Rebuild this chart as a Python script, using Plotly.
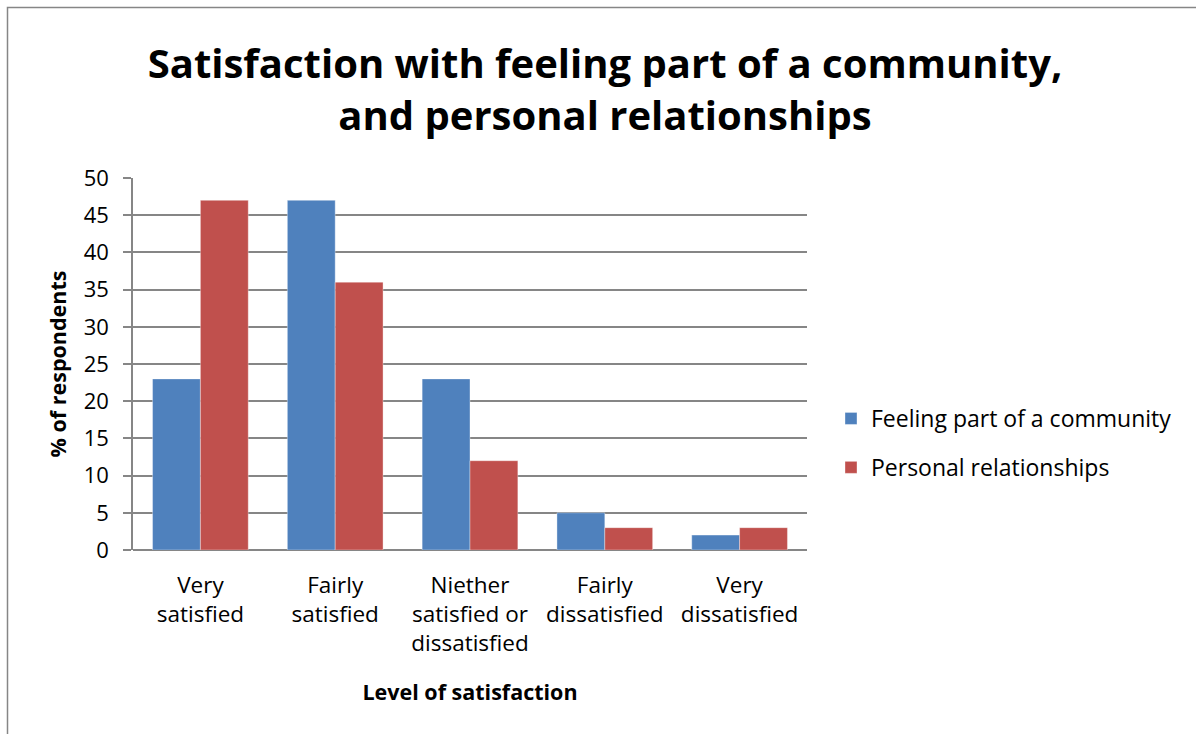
import plotly.graph_objects as go

# Survey responses (% of respondents) by level of satisfaction
categories = [
    "Very<br>satisfied",
    "Fairly<br>satisfied",
    "Niether<br>satisfied or<br>dissatisfied",
    "Fairly<br>dissatisfied",
    "Very<br>dissatisfied",
]
community = [23, 47, 23, 5, 2]
relationships = [47, 36, 12, 3, 3]
series_names = ["Feeling part of a community", "Personal relationships"]
y_ticks = list(range(0, 51, 5))

FONT = "Open Sans"
BLUE = "#4F81BD"
RED = "#C0504D"
GRID = "#868686"

W, H = 1196, 734
L, R, T, B = 133, 389, 178, 184
pw, ph = W - L - R, H - T - B


def px_x(px):
    return (px - L) / pw


def px_y(py):
    return (H - B - py) / ph


fig = go.Figure()
fig.add_trace(go.Bar(
    x=categories, y=community, name=series_names[0], legendgroup="a",
    marker=dict(color=BLUE, line=dict(color="rgba(255,255,255,0.6)", width=0.6)),
))
fig.add_trace(go.Bar(
    x=categories, y=relationships, name=series_names[1], legendgroup="b",
    marker=dict(color=RED, line=dict(color="rgba(255,255,255,0.6)", width=0.6)),
))

fig.update_layout(
    width=W, height=H,
    margin=dict(l=L, r=R, t=T, b=B),
    paper_bgcolor="white", plot_bgcolor="white",
    font=dict(family=FONT, color="black"),
    barmode="group", bargap=0.29, bargroupgap=0,
    title=dict(
        text="<b>Satisfaction with feeling part of a community,<br>and personal relationships</b>",
        font=dict(size=40, family=FONT, color="black"),
        x=px_x(605), xanchor="center", xref="paper",
        y=1 - 78 / H, yanchor="middle",
    ),
    xaxis=dict(
        showgrid=False, showline=False, ticks="",
        tickfont=dict(size=22.5), ticklabelstandoff=19,
        title=dict(text="<b>Level of satisfaction</b>", font=dict(size=21.5), standoff=27),
    ),
    yaxis=dict(
        range=[0, 50], tickvals=y_ticks, ticktext=[str(v) for v in y_ticks],
        showgrid=True, gridcolor=GRID, gridwidth=1.5,
        showline=True, linecolor=GRID, linewidth=1.5,
        ticks="outside", ticklen=8, tickcolor=GRID, tickwidth=1.5,
        tickfont=dict(size=22), ticklabelstandoff=10,
        zeroline=True, zerolinecolor=GRID, zerolinewidth=1.5,
        title=dict(text="<b>% of respondents</b>", font=dict(size=21.5), standoff=11),
    ),
    legend=dict(
        x=px_x(831), xanchor="left", y=px_y(443), yanchor="middle",
        font=dict(size=23), traceorder="grouped", tracegroupgap=16,
        itemwidth=30,
    ),
    showlegend=True,
)

# Chart-area border
fig.add_shape(
    type="rect", xref="paper", yref="paper",
    x0=px_x(7.5), x1=px_x(1210), y0=px_y(745), y1=px_y(7.5),
    line=dict(color=GRID, width=1.5), fillcolor="rgba(0,0,0,0)", layer="below",
)

fig.write_html("out.html")
